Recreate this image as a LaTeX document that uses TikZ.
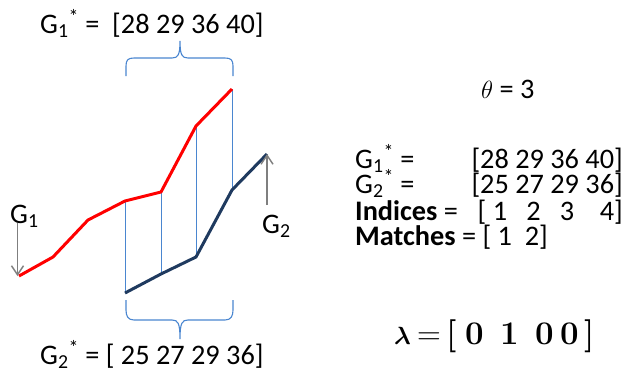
\documentclass[tikz,border=0pt]{standalone}
\usepackage{amsmath}
\usepackage[no-math]{fontspec}
\setmainfont{Carlito}
\newfontfamily\lmrom{Latin Modern Roman}
\usetikzlibrary{arrows.meta}
\definecolor{redline}{HTML}{FF0000}
\definecolor{navyline}{HTML}{1F3A5F}
\definecolor{thinblue}{HTML}{4A86D0}
\definecolor{arrowgray}{HTML}{7F7F7F}
\tikzset{
  txt/.style={anchor=base west, inner sep=0pt, font=\fontsize{28.3}{33}\selectfont},
  txtr/.style={anchor=base east, inner sep=0pt, font=\fontsize{28.3}{33}\selectfont},
  lam/.style={anchor=base west, inner sep=0pt, font=\fontsize{33}{38}\lmrom\bfseries},
  gline/.style={redline, line width=3pt, line join=round},
  hline/.style={navyline, line width=3pt, line join=round},
  link/.style={thinblue, line width=1pt},
  bracestyle/.style={thinblue, line width=1.1pt},
  lblarrow/.style={arrowgray, line width=1.4pt, -{Straight Barb[length=9pt,width=12pt,line width=1.4pt]}}
}
\begin{document}
\begin{tikzpicture}[x=1pt,y=-1pt]
\useasboundingbox (0,0) rectangle (626,381);
% G1 points
\coordinate (a1) at (19,276);
\coordinate (a2) at (53,257);
\coordinate (a3) at (88,220);
\coordinate (a4) at (125,201);
\coordinate (a5) at (161,192);
\coordinate (a6) at (196,126);
\coordinate (a7) at (232,89);
% G2 points
\coordinate (b1) at (125,293);
\coordinate (b2) at (161,274);
\coordinate (b3) at (196,257);
\coordinate (b4) at (232,190);
\coordinate (b5) at (267,154);
% links
\draw[link] (a4) -- (b1);
\draw[link] (a5) -- (b2);
\draw[link] (a6) -- (b3);
\draw[link] (a7) -- (b4);
\draw[gline] (a1) -- (a2) -- (a3) -- (a4) -- (a5) -- (a6) -- (a7);
\draw[hline] (b1) -- (b2) -- (b3) -- (b4) -- (b5);
% braces
\draw[bracestyle] (126,76) -- (126,66) .. controls (126,60) and (128,58) .. (134,58)
  -- (172,58) .. controls (178,58) and (180,55) .. (180,41)
  .. controls (180,55) and (182,58) .. (188,58) -- (225,58)
  .. controls (231,58) and (233,60) .. (233,66) -- (233,76);
\draw[bracestyle] (126,300) -- (126,310) .. controls (126,316) and (128,320) .. (134,320)
  -- (172,320) .. controls (178,320) and (180,323) .. (180,339)
  .. controls (180,323) and (182,320) .. (188,320) -- (225,320)
  .. controls (231,320) and (233,316) .. (233,310) -- (233,300);
% label arrows
\coordinate (g1top) at (17.5,223);
\coordinate (g2bot) at (267,205);
\draw[lblarrow] (g1top) -- (a1 -| g1top);
\draw[lblarrow] (g2bot) -- (b5);
% labels
\node[txt] (top) at (40,33) {G\textsubscript{1}\textsuperscript{*} =\ \ [28 29 36 40]};
\node[txt] (bot) at (40,364) {G\textsubscript{2}\textsuperscript{*} = [ 25 27 29 36]};
\node[txt] (l1) at (10,223) {G\textsubscript{1}};
\node[txt] (l2) at (262,233) {G\textsubscript{2}};
\node[txt] (theta) at (481,98) {{\fontsize{31}{36}\selectfont$\theta$} = 3};
\node[txt] (r1a) at (355,168) {G\textsubscript{1}\textsuperscript{*} =};
\node[txtr] (r1b) at (623,168) {[28 29 36 40]};
\node[txt] (r2a) at (355,193) {G\textsubscript{2}\textsuperscript{*} =};
\node[txtr] (r2b) at (623,193) {[25 27 29 36]};
\node[txt] (r3a) at (355,220) {\textbf{Indices} =};
\node[txtr] (r3b) at (623,220) {[\ 1\ \ \ 2\ \ \ 3\ \ \ \ 4]};
\node[txt] (r4) at (355,245) {\textbf{Matches} = [ 1\ \ 2]};
% lambda row
\node[anchor=base west, inner sep=0pt, font=\fontsize{33}{38}\selectfont] (lamsym) at (394,344) {$\boldsymbol{\lambda}$};
\node[anchor=base west, inner sep=0pt, font=\fontsize{33}{38}\lmrom] (lameq) at (417,344) {=};
\node[lam] (lb1) at (446,344) {[};
\node[lam] (l0a) at (465,344) {0};
\node[lam] (l1b) at (500,344) {1};
\node[lam] (l0b) at (535,344) {0};
\node[lam] (l0c) at (560,344) {0};
\node[lam] (lb2) at (584,344) {]};
\end{tikzpicture}
\end{document}
